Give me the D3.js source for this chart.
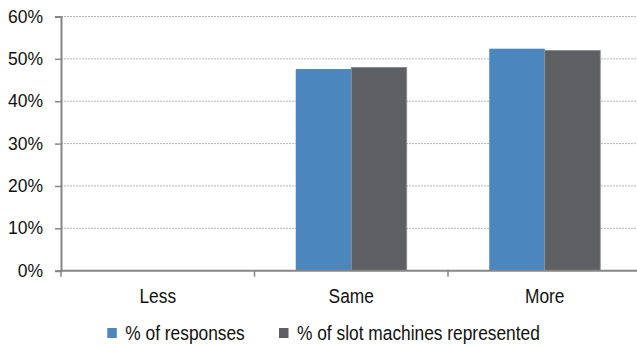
<!DOCTYPE html>
<html>
<head>
<meta charset="utf-8">
<script src="https://cdn.jsdelivr.net/npm/d3@7"></script>
<style>
  html, body { margin: 0; padding: 0; background: #fff; }
  svg { display: block; font-family: "Liberation Sans", Arial, sans-serif; }
</style>
</head>
<body>
<svg id="chart" width="637" height="346"></svg>
<script>
// Survey answers per category
const categories = ["Less", "Same", "More"];
const seriesNames = ["% of responses", "% of slot machines represented"];
const responses = [0, 47.6, 52.4];
const slotMachines = [0, 48.0, 52.0];
const yTicks = [0, 10, 20, 30, 40, 50, 60];
const colors = ["#4b87bd", "#5e5f63"];

const svg = d3.select("#chart");
const margin = { left: 61, top: 16.5, bottom: 270.7, right: 641.5 };

const x = d3.scaleBand().domain(categories).range([margin.left, margin.right]).paddingInner(0).paddingOuter(0);
const y = d3.scaleLinear().domain([0, 60]).range([margin.bottom, margin.top]);
const barW = 55.5;
const condensed = 0.89; // horizontal squeeze of the label font

// Horizontal gridlines
svg.append("g")
  .selectAll("line")
  .data(yTicks.filter(d => d > 0))
  .join("line")
  .attr("x1", margin.left).attr("x2", 637)
  .attr("y1", d => y(d)).attr("y2", d => y(d))
  .attr("stroke", "#b5b5b5")
  .attr("stroke-width", 1)
  .attr("stroke-dasharray", "2,1");

// Bars
const series = [responses, slotMachines];
series.forEach((vals, si) => {
  svg.append("g")
    .selectAll("rect")
    .data(categories.map((c, i) => ({ c, v: vals[i] })).filter(d => d.v > 0))
    .join("rect")
    .attr("x", d => x(d.c) + x.bandwidth() / 2 - barW + si * barW)
    .attr("y", d => y(d.v))
    .attr("width", barW)
    .attr("height", d => y(0) - y(d.v))
    .attr("fill", colors[si])
    .attr("stroke", si === 1 ? "#8d8e91" : "none")
    .attr("stroke-width", si === 1 ? 0.8 : 0);
});

// Y axis
const yAxis = d3.axisLeft(y)
  .tickValues(yTicks)
  .tickFormat(d => d + "%")
  .tickSize(6)
  .tickPadding(12);
const gy = svg.append("g").attr("transform", `translate(${margin.left},0)`).call(yAxis);
gy.select(".domain").attr("stroke", "#868686").attr("stroke-width", 2);
gy.selectAll(".tick line").attr("stroke", "#868686").attr("stroke-width", 1.5);
gy.selectAll(".tick text")
  .attr("fill", "#111")
  .style("font-size", "17.5px")
  .style("font-family", "'Liberation Sans', Arial, sans-serif");

// X axis baseline with boundary ticks
svg.append("line")
  .attr("x1", margin.left).attr("x2", 637)
  .attr("y1", y(0)).attr("y2", y(0))
  .attr("stroke", "#868686").attr("stroke-width", 2);
const bounds = categories.map(c => x(c)).concat([x(categories[2]) + x.bandwidth()]);
svg.append("g")
  .selectAll("line")
  .data(bounds.filter(b => b <= 637))
  .join("line")
  .attr("x1", d => d).attr("x2", d => d)
  .attr("y1", y(0)).attr("y2", y(0) + 6)
  .attr("stroke", "#868686").attr("stroke-width", 1.5);

svg.append("g")
  .selectAll("text")
  .data(categories)
  .join("text")
  .attr("transform", d => `translate(${x(d) + x.bandwidth() / 2},303) scale(${condensed},1)`)
  .attr("text-anchor", "middle")
  .attr("fill", "#111")
  .style("font-size", "19.5px")
  .text(d => d);

// Legend
const legendPos = [107.3, 279];
const lg = svg.append("g")
  .selectAll("g")
  .data(seriesNames)
  .join("g")
  .attr("transform", (d, i) => `translate(${legendPos[i]},328)`);
lg.append("rect")
  .attr("width", 9.5).attr("height", 10)
  .attr("fill", (d, i) => colors[i]);
lg.append("text")
  .attr("transform", `translate(18,11.7) scale(${condensed},1)`)
  .attr("fill", "#111")
  .style("font-size", "19.5px")
  .text(d => d);
</script>
</body>
</html>
